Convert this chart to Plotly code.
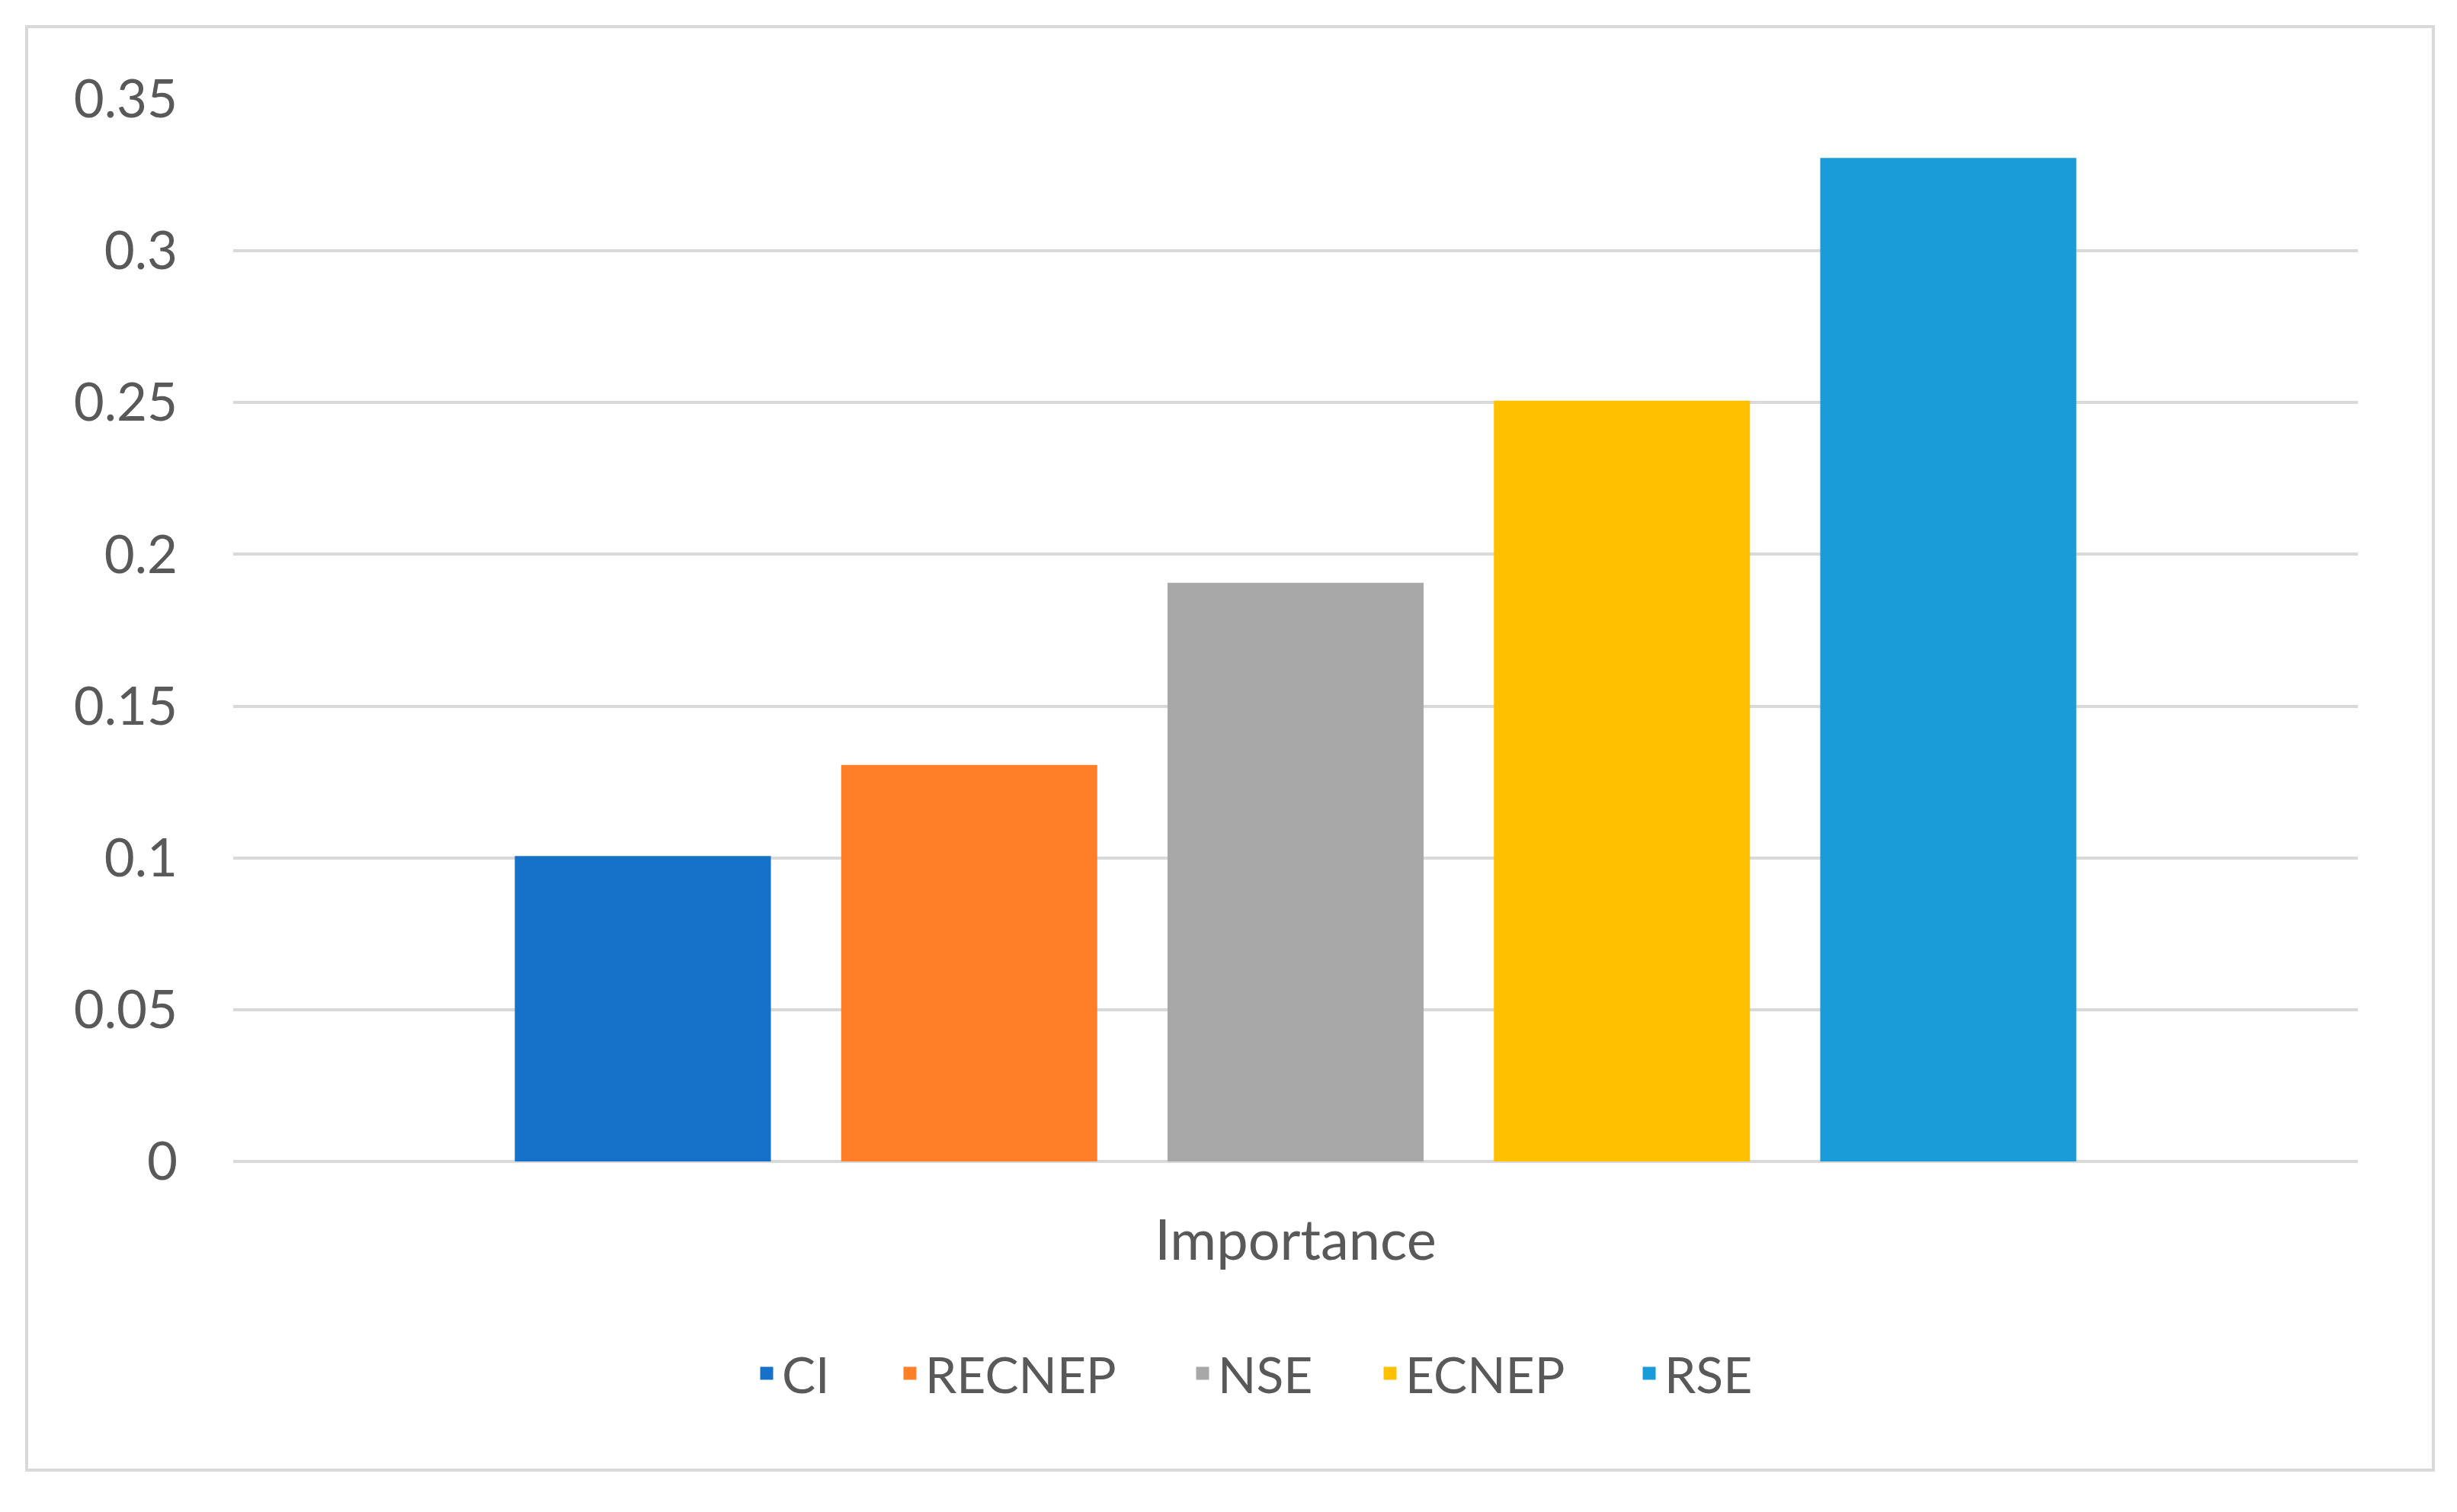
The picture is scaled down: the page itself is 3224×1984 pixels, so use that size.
import plotly.graph_objects as go

category = ["Importance"]
series_names = ["CI", "RECNEP", "NSE", "ECNEP", "RSE"]
series_values = [0.10, 0.13, 0.19, 0.25, 0.33]
series_colors = ["#1671C9", "#FE7F28", "#A8A8A8", "#FFC000", "#199CD8"]
y_ticks = [0, 0.05, 0.1, 0.15, 0.2, 0.25, 0.3, 0.35]
y_tick_labels = ["0", "0.05", "0.1", "0.15", "0.2", "0.25", "0.3", "0.35"]
# left edge of each legend entry's text in the target picture (px)
legend_text_x = [1026, 1214, 1598, 1844, 2184]

OFF = 8  # page body margin of the browser
W, H = 3224 - OFF, 1984 - OFF
L, T = 306 - OFF, 130 - OFF
R = W - (3094 - OFF)
B = H - (1524 - OFF)
FONT = "Lato, 'Open Sans', sans-serif"
TXT = "#595959"
GRID = "#D9D9D9"

fig = go.Figure()
legend_names = ["legend"] + [f"legend{i}" for i in range(2, len(series_names) + 1)]
for name, val, col, lg in zip(series_names, series_values, series_colors, legend_names):
    fig.add_trace(go.Bar(x=category, y=[val], name=name, legend=lg,
                         marker=dict(color=col, line=dict(color=col, width=5))))

pw = W - L - R
ph = H - T - B
bx0, bx1, by0, by1 = 35 - OFF, 3193 - OFF, 35 - OFF, 1929 - OFF
fig.add_shape(type="rect", xref="paper", yref="paper",
              x0=(bx0 - L) / pw, x1=(bx1 - L) / pw,
              y0=(H - B - by1) / ph, y1=(H - B - by0) / ph,
              line=dict(color=GRID, width=4), fillcolor="rgba(0,0,0,0)",
              layer="below")

legends = {}
for lg, tx in zip(legend_names, legend_text_x):
    legends[lg] = dict(orientation="h", xref="container", yref="container",
                       x=(tx - OFF - 40) / W, xanchor="left",
                       y=1 - (1802 - OFF) / H, yanchor="middle",
                       font=dict(family=FONT, size=66, color=TXT),
                       itemwidth=30, bgcolor="rgba(0,0,0,0)")

fig.update_layout(
    width=W, height=H,
    margin=dict(l=L, r=R, t=T, b=B),
    paper_bgcolor="white", plot_bgcolor="white",
    barmode="group", bargap=0.232, bargroupgap=0.227,
    font=dict(family=FONT, size=66, color=TXT),
    showlegend=True,
    xaxis=dict(type="category", showgrid=False, showline=False, zeroline=False,
               ticks="", tickfont=dict(family=FONT, size=74, color=TXT),
               ticklabelstandoff=54),
    yaxis=dict(range=[0, 0.35], tickvals=y_ticks, ticktext=y_tick_labels,
               showgrid=True, gridcolor=GRID, gridwidth=4,
               zeroline=True, zerolinecolor=GRID, zerolinewidth=4,
               showline=False, ticks="",
               tickfont=dict(family=FONT, size=69, color=TXT),
               ticklabelstandoff=72),
    **legends,
)

fig.write_html("out.html")
